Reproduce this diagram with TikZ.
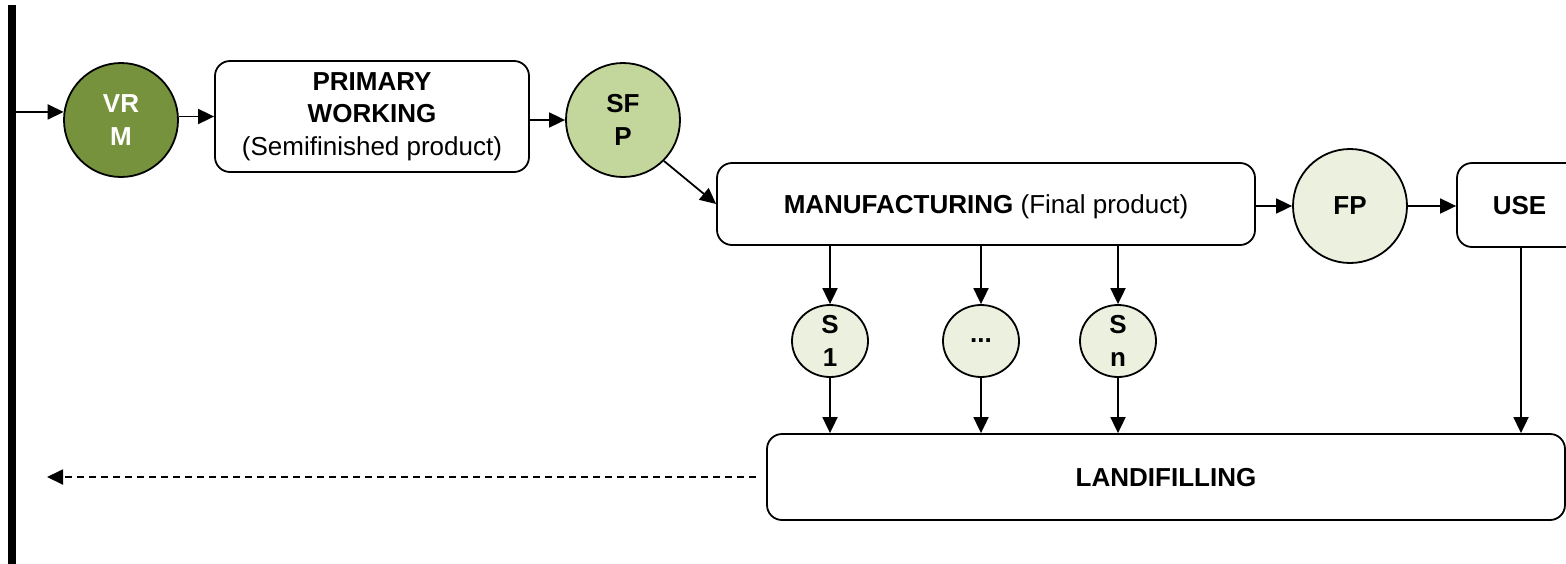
\documentclass[tikz,border=0pt]{standalone}
\usepackage{fontspec}
\setmainfont{Liberation Sans}
\usetikzlibrary{arrows.meta,shapes.geometric,calc}
\definecolor{olivedark}{HTML}{76923C}
\definecolor{olivemid}{HTML}{C3D69B}
\definecolor{olivelight}{HTML}{EBF1DE}
\newcommand{\diagfont}{\fontsize{26}{32.5}\selectfont}
\begin{document}
\begin{tikzpicture}[x=1pt,y=-1pt,
  stagebox/.style={draw, line width=1.8pt, rounded corners=15pt, inner sep=0pt,
    align=center, font=\diagfont},
  flowdisc/.style={draw, circle, line width=1.8pt, minimum size=114pt, inner sep=0pt,
    align=center, font=\diagfont\bfseries},
  sidedisc/.style={draw, ellipse, line width=1.8pt, minimum width=76pt, minimum height=72pt,
    inner sep=0pt, align=center, fill=olivelight, font=\diagfont\bfseries},
  link/.style={-{Triangle[length=16pt,width=15pt]}, line width=1.8pt},
  backlink/.style={link, dash pattern=on 7pt off 5pt}]
\clip (0,0) rectangle (1566,563);

% system boundary
\node[fill=black, minimum width=8pt, minimum height=560pt, inner sep=0pt,
  anchor=north west] (bar) at (8,5) {};

% main chain
\node[flowdisc, fill=olivedark, text=white] (vrm) at (121,120) {VR\\M};
\node[stagebox, minimum width=314pt, minimum height=111pt] (prim) at (372,116.5)
  {\textbf{PRIMARY}\\\textbf{WORKING}\\(Semifinished product)};
\node[flowdisc, fill=olivemid] (sfp) at (623,120) {SF\\P};
\node[stagebox, minimum width=538pt, minimum height=82pt, text depth=0pt] (manu) at (986,204)
  {\textbf{MANUFACTURING} (Final product)};
\node[flowdisc, fill=olivelight, text depth=0pt] (fp) at (1350,206) {FP};
\node[stagebox, minimum width=125pt, minimum height=84pt, text depth=0pt] (use) at (1519.5,205)
  {\textbf{USE}};

% scraps
\node[sidedisc] (s1) at (830,341) {S\\1};
\node[sidedisc] (sdots) at (981,341) {...};
\node[sidedisc] (sn) at (1118,341) {S\\n};

\node[stagebox, minimum width=798pt, minimum height=86pt, text depth=0pt] (land) at (1166,477)
  {\textbf{LANDIFILLING}};

\coordinate (ret) at (47,477);

% connectors
\draw[link] (bar.east |- vrm.172) -- (vrm.172);
\draw[link] (vrm.east |- prim.west) -- (prim.west);
\draw[link] (prim.east |- sfp.west) -- (sfp.west);
\draw[link] (sfp.-45) -- (manu.west);
\draw[link] (manu.east |- fp.west) -- (fp.west);
\draw[link] (fp.east) -- (use.west |- fp.east);
\foreach \s in {s1,sdots,sn}{
  \draw[link] (manu.south -| \s.north) -- (\s.north);
  \draw[link] (\s.south) -- (land.north -| \s.south);
}
\draw[link] (use.south -| 1521,0) -- (land.north -| 1521,0);
\draw[backlink, shorten <=10pt] (land.west) -- (ret);
\end{tikzpicture}
\end{document}
